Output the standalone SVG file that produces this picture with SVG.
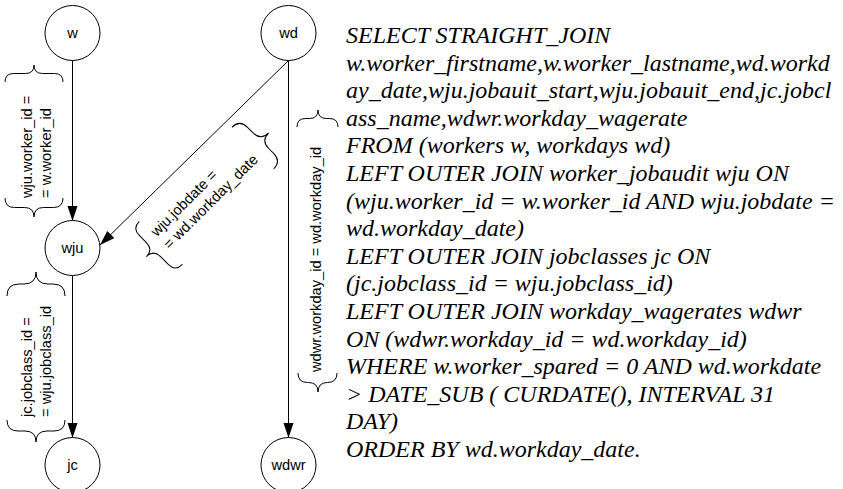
<svg xmlns="http://www.w3.org/2000/svg" width="843" height="489" viewBox="0 0 843 489">
<defs>
<marker id="arrow" markerUnits="userSpaceOnUse" markerWidth="16" markerHeight="11" refX="15" refY="5" orient="auto">
<path d="M0,0 L15,5 L0,10 Z" fill="#000"/>
</marker>
<style>
.node circle{fill:#fff;stroke:#000;stroke-width:1}
.node text{font-family:'Liberation Sans',Arial,sans-serif;font-size:14.67px;text-anchor:middle;fill:#000}
.edge{fill:none;stroke:#000;stroke-width:1;marker-end:url(#arrow)}
.brace{fill:none;stroke:#000;stroke-width:1}
.lbl{font-family:'Liberation Sans',Arial,sans-serif;font-size:14.67px;fill:#000}
</style>
</defs>
<rect width="843" height="489" fill="#fff"/>
<g id="connectors">
<path class="edge" d="M72.5,61 L72.5,221"/>
<path class="edge" d="M288,61 L100,245"/>
<path class="edge" d="M288.5,61 L288.5,438"/>
<path class="edge" d="M72.5,275.5 L72.5,438"/>
</g>
<g id="edge-labels">
<g id="label-w-wju">
<path class="brace" d="M5,82 Q5,73.5 13.5,73.5 L25.5,73.5 Q34,73.5 34,65 Q34,73.5 42.5,73.5 L54.5,73.5 Q63,73.5 63,82"/>
<path class="brace" d="M5,198 Q5,207.5 14.5,207.5 L24.5,207.5 Q34,207.5 34,217 Q34,207.5 43.5,207.5 L53.5,207.5 Q63,207.5 63,198"/>
<text class="lbl" transform="translate(32,198) rotate(-90)"><tspan x="0" y="0">wju.worker_id =</tspan><tspan x="0" y="18.5">= w.worker_id</tspan></text>
</g>
<g id="label-wd-wju" transform="rotate(-45)">
<path class="brace" d="M74,254 Q85,254 85,265 L85,273 Q85,284 96,284 Q85,284 85,295 L85,302 Q85,313 74,313"/>
<path class="brace" d="M-58,255 Q-68,255 -68,265 L-68,275 Q-68,285 -78,285 Q-68,285 -68,295 L-68,306 Q-68,316 -58,316"/>
<text class="lbl"><tspan x="-57" y="278.6">wju.jobdate =</tspan><tspan x="-57" y="296.6">= wd.workday_date</tspan></text>
</g>
<g id="label-wd-wdwr">
<path class="brace" d="M297,127 Q297,118.5 305.5,118.5 L309.5,118.5 Q318,118.5 318,110 Q318,118.5 326.5,118.5 L329.5,118.5 Q338,118.5 338,127"/>
<path class="brace" d="M298,373 Q298,382.5 307.5,382.5 L308.5,382.5 Q318,382.5 318,392 Q318,382.5 327.5,382.5 Q337,382.5 337,373"/>
<text class="lbl" transform="translate(321,372) rotate(-90)" x="0" y="0">wdwr.workday_id = wd.workday_id</text>
</g>
<g id="label-wju-jc">
<path class="brace" d="M7,296 Q7,284 19,284 L24,284 Q36,284 36,272 Q36,284 48,284 L53,284 Q65,284 65,296"/>
<path class="brace" d="M7,420 Q7,431 18,431 L25,431 Q36,431 36,442 Q36,431 47,431 L54,431 Q65,431 65,420"/>
<text class="lbl" transform="translate(32,417) rotate(-90)"><tspan x="0" y="0">jc.jobclass_id =</tspan><tspan x="0" y="18.5">= wju.jobclass_id</tspan></text>
</g>
</g>
<g id="node-w" class="node"><circle cx="72.5" cy="33" r="27.5"/><text x="72.5" y="38">w</text></g>
<g id="node-wd" class="node"><circle cx="288.5" cy="33" r="27.5"/><text x="288.5" y="38">wd</text></g>
<g id="node-wju" class="node"><circle cx="72.5" cy="248" r="27.5"/><text x="72.5" y="253">wju</text></g>
<g id="node-jc" class="node"><circle cx="72.5" cy="465" r="27.5"/><text x="72.5" y="470">jc</text></g>
<g id="node-wdwr" class="node"><circle cx="288.5" cy="465" r="27.5"/><text x="288.5" y="470">wdwr</text></g>
<g id="sql" font-family="Liberation Serif, Times New Roman, Times, DejaVu Serif, serif" font-style="italic" font-size="24" fill="#000">
<text x="346" y="43">SELECT STRAIGHT_JOIN</text>
<text x="346" y="70.6">w.worker_firstname,w.worker_lastname,wd.workd</text>
<text x="346" y="98.2">ay_date,wju.jobauit_start,wju.jobauit_end,jc.jobcl</text>
<text x="346" y="125.8">ass_name,wdwr.workday_wagerate</text>
<text x="346" y="153.4">FROM (workers w, workdays wd)</text>
<text x="346" y="181">LEFT OUTER JOIN worker_jobaudit wju ON</text>
<text x="346" y="208.6">(wju.worker_id = w.worker_id AND wju.jobdate =</text>
<text x="346" y="236.2">wd.workday_date)</text>
<text x="346" y="263.8">LEFT OUTER JOIN jobclasses jc ON</text>
<text x="346" y="291.4">(jc.jobclass_id = wju.jobclass_id)</text>
<text x="346" y="319">LEFT OUTER JOIN workday_wagerates wdwr</text>
<text x="346" y="346.6">ON (wdwr.workday_id = wd.workday_id)</text>
<text x="346" y="374.2">WHERE w.worker_spared = 0 AND wd.workdate</text>
<text x="346" y="401.8">&gt; DATE_SUB ( CURDATE(), INTERVAL 31</text>
<text x="346" y="429.4">DAY)</text>
<text x="346" y="457">ORDER BY wd.workday_date.</text>
</g>
</svg>
